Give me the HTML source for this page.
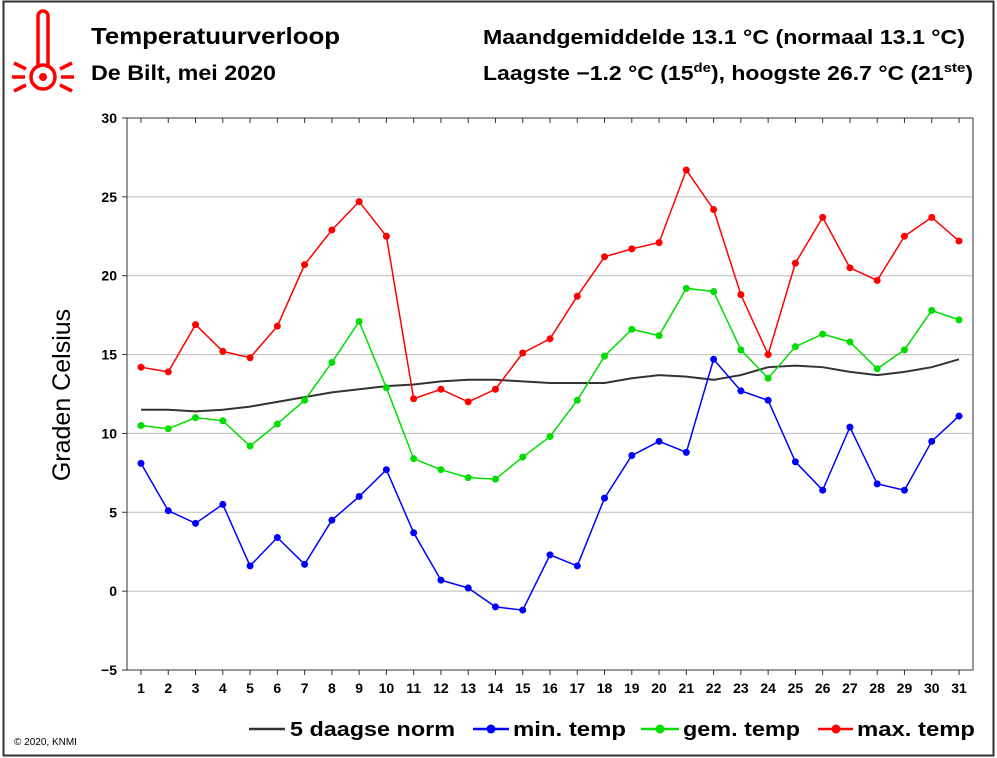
<!DOCTYPE html>
<html><head><meta charset="utf-8"><style>
body{margin:0;background:#fff;}
svg{display:block;font-family:"Liberation Sans",sans-serif;}
</style></head><body>
<svg id="chart" width="997" height="758" viewBox="0 0 997 758">
<rect x="3.5" y="1.5" width="990" height="754" fill="#fff" stroke="#333" stroke-width="2"/>
<g stroke="#f00" fill="none" stroke-width="3.5">
<path d="M38,68 L38,16 A5,5 0 0 1 48,16 L48,68"/>
<circle cx="43" cy="77" r="12"/>
<circle cx="43" cy="77" r="4" fill="#f00" stroke="none"/>
<line x1="12" y1="77" x2="25" y2="77"/><line x1="61" y1="77" x2="74" y2="77"/>
<line x1="14" y1="63" x2="26" y2="69"/><line x1="60" y1="69" x2="72" y2="63"/>
<line x1="14" y1="91" x2="26" y2="85"/><line x1="60" y1="85" x2="72" y2="91"/>
</g>
<text x="91" y="44" font-size="23" font-weight="bold" textLength="249" lengthAdjust="spacingAndGlyphs">Temperatuurverloop</text>
<text x="91" y="80" font-size="21" font-weight="bold" textLength="185" lengthAdjust="spacingAndGlyphs">De Bilt, mei 2020</text>
<text x="483" y="44" font-size="20" font-weight="bold" textLength="482" lengthAdjust="spacingAndGlyphs">Maandgemiddelde 13.1 °C (normaal 13.1 °C)</text>
<text transform="translate(483,80) scale(1.15,1)" x="0" y="0" font-size="20" font-weight="bold">Laagste −1.2 °C (15<tspan font-size="13" dy="-8">de</tspan><tspan dy="8">), hoogste 26.7 °C (21</tspan><tspan font-size="13" dy="-8">ste</tspan><tspan dy="8">)</tspan></text>
<text transform="translate(70,395) rotate(-90)" font-size="25" text-anchor="middle">Graden Celsius</text>
<g id="grid"></g><g id="series"></g>
<g font-size="20" font-weight="bold">
<g><line x1="249" y1="729" x2="285" y2="729" stroke="#333" stroke-width="2.5"/><text x="290" y="736" textLength="165" lengthAdjust="spacingAndGlyphs">5 daagse norm</text></g>
<g><line x1="473" y1="729" x2="509" y2="729" stroke="#00f" stroke-width="2.5"/><circle cx="491" cy="729" r="4.5" fill="#00f"/><text x="513" y="736" textLength="113" lengthAdjust="spacingAndGlyphs">min. temp</text></g>
<g><line x1="641" y1="729" x2="679" y2="729" stroke="#0d0" stroke-width="2.5"/><circle cx="660" cy="729" r="4.5" fill="#0d0"/><text x="683" y="736" textLength="117" lengthAdjust="spacingAndGlyphs">gem. temp</text></g>
<g><line x1="818" y1="729" x2="853" y2="729" stroke="#f00" stroke-width="2.5"/><circle cx="836" cy="729" r="4.5" fill="#f00"/><text x="857" y="736" textLength="118" lengthAdjust="spacingAndGlyphs">max. temp</text></g>
</g>
<text x="14" y="745" font-size="10">© 2020, KNMI</text>
</svg>
<script>
const days=[1,2,3,4,5,6,7,8,9,10,11,12,13,14,15,16,17,18,19,20,21,22,23,24,25,26,27,28,29,30,31];
const yTicks=[-5,0,5,10,15,20,25,30];
const maxTemp=[14.2,13.9,16.9,15.2,14.8,16.8,20.7,22.9,24.7,22.5,12.2,12.8,12.0,12.8,15.1,16.0,18.7,21.2,21.7,22.1,26.7,24.2,18.8,15.0,20.8,23.7,20.5,19.7,22.5,23.7,22.2];
const gemTemp=[10.5,10.3,11.0,10.8,9.2,10.6,12.1,14.5,17.1,12.9,8.4,7.7,7.2,7.1,8.5,9.8,12.1,14.9,16.6,16.2,19.2,19.0,15.3,13.5,15.5,16.3,15.8,14.1,15.3,17.8,17.2];
const minTemp=[8.1,5.1,4.3,5.5,1.6,3.4,1.7,4.5,6.0,7.7,3.7,0.7,0.2,-1.0,-1.2,2.3,1.6,5.9,8.6,9.5,8.8,14.7,12.7,12.1,8.2,6.4,10.4,6.8,6.4,9.5,11.1];
const normTemp=[11.5,11.5,11.4,11.5,11.7,12.0,12.3,12.6,12.8,13.0,13.1,13.3,13.4,13.4,13.3,13.2,13.2,13.2,13.5,13.7,13.6,13.4,13.7,14.2,14.3,14.2,13.9,13.7,13.9,14.2,14.7];
const NS="http://www.w3.org/2000/svg";
const L=127,R=973,T=118,B=670;
const x=d=>141+(d-1)*(959-141)/30;
const y=v=>B-(v+5)*(B-T)/35;
function mk(tag,attrs,parent){const e=document.createElementNS(NS,tag);for(const k in attrs)e.setAttribute(k,attrs[k]);parent.appendChild(e);return e;}
const g=document.getElementById('grid'),s=document.getElementById('series');
yTicks.forEach(v=>{
 const ln=mk('line',{x1:L,x2:R,y1:y(v),y2:y(v),stroke:'#bbb','stroke-width':1},g);
 
 
 mk('line',{x1:L-5,x2:L,y1:y(v),y2:y(v),stroke:'#333'},g);
 const t=mk('text',{x:L-10,y:y(v)+5,'font-size':14,'font-weight':'bold','text-anchor':'end'},g);
 t.textContent=v<0?'−'+(-v):v;
 
 
});
days.forEach(d=>{
 mk('line',{x1:x(d),x2:x(d),y1:B,y2:B+5,stroke:'#333'},g);
 mk('line',{x1:x(d),x2:x(d),y1:T,y2:T+5,stroke:'#333'},g);
 const t=mk('text',{x:x(d),y:B+23,'font-size':14,'font-weight':'bold','text-anchor':'middle'},g);
 t.textContent=d;
 
 
});
const fr=mk('rect',{x:L,y:T,width:R-L,height:B-T,fill:'none',stroke:'#333','stroke-width':1},g);


function series(vals,col,name,pts){
 const p=mk('polyline',{points:vals.map((v,i)=>x(days[i])+','+y(v)).join(' '),fill:'none',stroke:col,'stroke-width':pts?1.5:2},s);
 
 
 if(pts)vals.forEach((v,i)=>{
  const c=mk('circle',{cx:x(days[i]),cy:y(v),r:3.5,fill:col},s);
  
  
 });
}
series(normTemp,'#333','norm',false);
series(minTemp,'#00f','min-temp',true);
series(gemTemp,'#0d0','gem-temp',true);
series(maxTemp,'#f00','max-temp',true);
</script>
</body></html>
